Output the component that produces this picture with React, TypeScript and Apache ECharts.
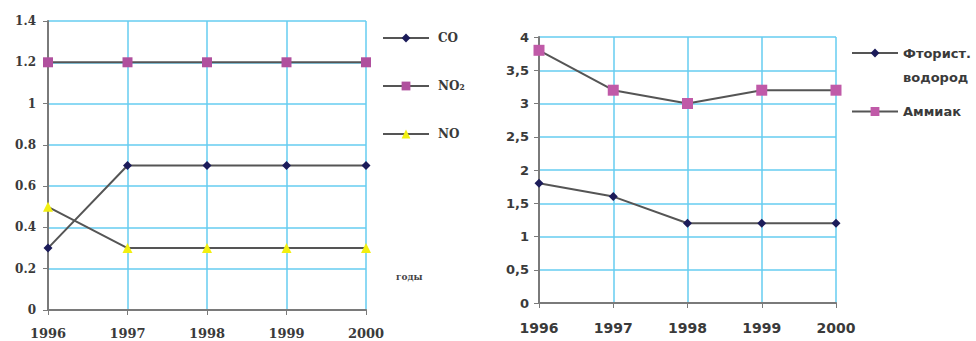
import React, { useEffect, useRef } from "react";
import * as echarts from "echarts";

const years = ["1996", "1997", "1998", "1999", "2000"];
const coValues = [0.3, 0.7, 0.7, 0.7, 0.7];
const no2Values = [1.2, 1.2, 1.2, 1.2, 1.2];
const noValues = [0.5, 0.3, 0.3, 0.3, 0.3];
const hfValues = [1.8, 1.6, 1.2, 1.2, 1.2];
const nh3Values = [3.8, 3.2, 3.0, 3.2, 3.2];

const leftNames = ["CO", "NO₂", "NO"];
const rightNames = ["Фторист. водород", "Аммиак"];

const GRID_COLOR = "#66ccf0";
const AXIS_COLOR = "#7a7a7a";
const LINE_COLOR = "#555555";
const SERIF = "'DejaVu Serif', 'Liberation Serif', serif";
const SANS = "'DejaVu Sans', 'Liberation Sans', sans-serif";

export default function App() {
  const ref = useRef<HTMLDivElement>(null);
  useEffect(() => {
    if (!ref.current) return;
    const chart = echarts.init(ref.current, undefined, { renderer: "svg" });
    const lineStyle = { color: LINE_COLOR, width: 2 };
    chart.setOption({
      animation: false,
      backgroundColor: "#ffffff",
      grid: [
        { left: 48, top: 21, width: 318, height: 289 },
        { left: 539, top: 37, width: 297, height: 266 },
      ],
      xAxis: [
        {
          gridIndex: 0,
          type: "category",
          data: years,
          boundaryGap: false,
          axisLine: { lineStyle: { color: AXIS_COLOR, width: 2 } },
          axisTick: { show: true, length: 5, lineStyle: { color: AXIS_COLOR } },
          axisLabel: { margin: 17, fontFamily: SERIF, fontWeight: "bold", fontSize: 13, color: "#3a3a3a" },
          splitLine: { show: true, lineStyle: { color: GRID_COLOR, width: 1.5 } },
        },
        {
          gridIndex: 1,
          type: "category",
          data: years,
          boundaryGap: false,
          axisLine: { lineStyle: { color: AXIS_COLOR, width: 2 } },
          axisTick: { show: true, length: 5, lineStyle: { color: AXIS_COLOR } },
          axisLabel: { margin: 18, fontFamily: SANS, fontWeight: "bold", fontSize: 14, color: "#3a3a3a" },
          splitLine: { show: true, lineStyle: { color: GRID_COLOR, width: 1.5 } },
        },
      ],
      yAxis: [
        {
          gridIndex: 0,
          type: "value",
          min: 0,
          max: 1.4,
          interval: 0.2,
          axisLine: { show: true, lineStyle: { color: AXIS_COLOR, width: 2 } },
          axisTick: { show: true, length: 5, lineStyle: { color: AXIS_COLOR } },
          axisLabel: { margin: 12, fontFamily: SERIF, fontWeight: "bold", fontSize: 12, color: "#3a3a3a" },
          splitLine: { show: true, lineStyle: { color: GRID_COLOR, width: 1.5 } },
        },
        {
          gridIndex: 1,
          type: "value",
          min: 0,
          max: 4,
          interval: 0.5,
          axisLine: { show: true, lineStyle: { color: AXIS_COLOR, width: 2 } },
          axisTick: { show: true, length: 5, lineStyle: { color: AXIS_COLOR } },
          axisLabel: {
            margin: 10,
            fontFamily: SANS,
            fontWeight: "bold",
            fontSize: 13,
            color: "#3a3a3a",
            formatter: (v: number) => String(v).replace(".", ","),
          },
          splitLine: { show: true, lineStyle: { color: GRID_COLOR, width: 1.5 } },
        },
      ],
      legend: [
        {
          data: leftNames,
          orient: "vertical",
          left: 377,
          top: 27,
          itemWidth: 46,
          itemHeight: 11,
          itemGap: 36,
          textStyle: { fontFamily: SERIF, fontWeight: "bold", fontSize: 12, color: "#3a3a3a", padding: [0, 0, 0, 4] },
        },
        {
          data: [
            { name: rightNames[0], textStyle: { lineHeight: 24 } },
            { name: rightNames[1] },
          ],
          orient: "vertical",
          left: 846,
          top: 12,
          itemWidth: 46,
          itemHeight: 11,
          itemGap: 16,
          formatter: (n: string) => (n === rightNames[0] ? " \nФторист.\nводород" : n),
          textStyle: { fontFamily: SANS, fontWeight: "bold", fontSize: 13, color: "#3a3a3a" },
        },
      ],
      graphic: [
        {
          type: "text",
          left: 396,
          top: 272,
          style: { text: "годы", font: "bold 9px " + SERIF, fill: "#444" },
        },
      ],
      series: [
        {
          name: leftNames[0],
          type: "line",
          xAxisIndex: 0,
          yAxisIndex: 0,
          data: coValues,
          symbol: "diamond",
          symbolSize: 9,
          itemStyle: { color: "#1c1c5a" },
          lineStyle,
        },
        {
          name: leftNames[1],
          type: "line",
          xAxisIndex: 0,
          yAxisIndex: 0,
          data: no2Values,
          symbol: "rect",
          symbolSize: 10,
          itemStyle: { color: "#b0509e" },
          lineStyle,
        },
        {
          name: leftNames[2],
          type: "line",
          xAxisIndex: 0,
          yAxisIndex: 0,
          data: noValues,
          symbol: "triangle",
          symbolSize: 10,
          itemStyle: { color: "#f2ef10" },
          lineStyle,
        },
        {
          name: rightNames[0],
          type: "line",
          xAxisIndex: 1,
          yAxisIndex: 1,
          data: hfValues,
          symbol: "diamond",
          symbolSize: 9,
          itemStyle: { color: "#1c1c5a" },
          lineStyle,
        },
        {
          name: rightNames[1],
          type: "line",
          xAxisIndex: 1,
          yAxisIndex: 1,
          data: nh3Values,
          symbol: "rect",
          symbolSize: 11,
          itemStyle: { color: "#c05aa8" },
          lineStyle,
        },
      ],
    });
    return () => chart.dispose();
  }, []);
  return <div ref={ref} style={{ width: 976, height: 341, position: "absolute", left: 0, top: 0 }} />;
}
